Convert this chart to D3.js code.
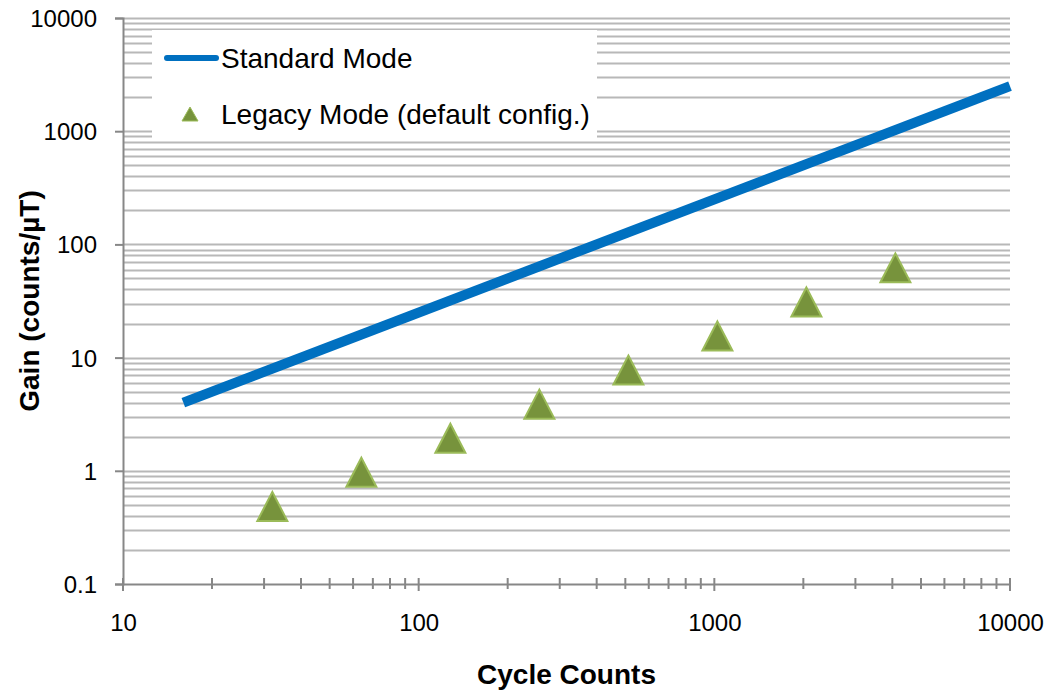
<!DOCTYPE html>
<html>
<head>
<meta charset="utf-8">
<script src="https://cdn.jsdelivr.net/npm/d3@7"></script>
<style>
  body { margin: 0; background: #fff; }
  svg { font-family: "Liberation Sans", Arial, sans-serif; }
</style>
</head>
<body>
<svg id="chart" width="1052" height="692"></svg>
<script>
// chart data
const standardCycles = [16, 10000];
const standardGain = [4, 2500];
const legacyCycles = [32, 64, 128, 256, 512, 1024, 2048, 4096];
const legacyGain = [0.5, 1, 2, 4, 8, 16, 32, 64];
const xTicks = [10, 100, 1000, 10000];
const yTicks = [0.1, 1, 10, 100, 1000, 10000];

const svg = d3.select("svg#chart");
const width = +svg.attr("width");
const height = +svg.attr("height");
const margin = {top: 18, right: 42, bottom: 108, left: 123};

const x = d3.scaleLog().domain([10, 10000]).range([margin.left, width - margin.right]);
const y = d3.scaleLog().domain([0.1, 10000]).range([height - margin.bottom, margin.top]);

const gridColor = "#b8b8b8";
const axisColor = "#878787";

// triangle marker, apex above the point a bit less than the base below it
function triangle(halfW, up, down) {
  const p = d3.path();
  p.moveTo(0, -up);
  p.lineTo(halfW, down);
  p.lineTo(-halfW, down);
  p.closePath();
  return p.toString();
}

// horizontal grid lines, 1..9 per decade
let gridVals = [];
for (let e = -1; e < 4; e++) {
  for (let m = 1; m <= 9; m++) gridVals.push(m * Math.pow(10, e));
}
gridVals.push(10000);
gridVals = gridVals.filter(v => v > 0.1 + 1e-9);

svg.append("g")
   .selectAll("line")
   .data(gridVals)
   .join("line")
   .attr("x1", margin.left)
   .attr("x2", width - margin.right)
   .attr("y1", d => Math.round(y(d)) + 0.5)
   .attr("y2", d => Math.round(y(d)) + 0.5)
   .attr("stroke", gridColor)
   .attr("stroke-width", 2);

// y axis
const yAxis = svg.append("g")
   .attr("transform", `translate(${margin.left},0)`)
   .call(d3.axisLeft(y).tickValues(yTicks).tickFormat(d3.format("~g")).tickSize(8).tickPadding(18));
yAxis.select(".domain").attr("stroke", axisColor).attr("stroke-width", 2);
yAxis.selectAll(".tick line").attr("stroke", axisColor).attr("stroke-width", 2);
yAxis.selectAll("text").attr("fill", "#000").style("font-size", "24px").attr("dy", "0.35em");

// x axis with minor ticks
let xMinor = [];
for (let e = 1; e < 4; e++) {
  for (let m = 1; m <= 9; m++) xMinor.push(m * Math.pow(10, e));
}
xMinor.push(10000);
const xAxisY = height - margin.bottom;
svg.append("g")
   .selectAll("line")
   .data(xMinor)
   .join("line")
   .attr("x1", d => x(d))
   .attr("x2", d => x(d))
   .attr("y1", xAxisY - 6)
   .attr("y2", d => xTicks.includes(d) ? xAxisY + 7 : xAxisY + 5)
   .attr("stroke", axisColor)
   .attr("stroke-width", 2);

const xAxis = svg.append("g")
   .attr("transform", `translate(0,${xAxisY})`)
   .call(d3.axisBottom(x).tickValues(xTicks).tickFormat(d3.format("~g")).tickSize(0).tickPadding(30));
xAxis.select(".domain").attr("stroke", axisColor).attr("stroke-width", 2);
xAxis.selectAll("text").attr("fill", "#000").style("font-size", "24px");

// standard mode line
const line = d3.line().x(d => x(d[0])).y(d => y(d[1]));
svg.append("path")
   .datum(standardCycles.map((c, i) => [c, standardGain[i]]))
   .attr("d", line)
   .attr("fill", "none")
   .attr("stroke", "#0070c0")
   .attr("stroke-width", 10);

// legacy mode triangles
svg.append("g")
   .selectAll("path")
   .data(legacyCycles.map((c, i) => [c, legacyGain[i]]))
   .join("path")
   .attr("d", triangle(15, 13, 16))
   .attr("transform", d => `translate(${x(d[0])},${y(d[1])})`)
   .attr("fill", "#77933c")
   .attr("stroke", "#9bbb59")
   .attr("stroke-width", 2)
   .attr("stroke-linejoin", "miter");

// legend
const legend = svg.append("g");
legend.append("rect")
      .attr("x", 152).attr("y", 30)
      .attr("width", 445).attr("height", 108)
      .attr("fill", "#fff");
legend.append("line")
      .attr("x1", 167).attr("x2", 216)
      .attr("y1", 58).attr("y2", 58)
      .attr("stroke", "#0070c0").attr("stroke-width", 6)
      .attr("stroke-linecap", "round");
legend.append("text")
      .attr("x", 221).attr("y", 58).attr("dy", "0.35em")
      .style("font-size", "28px")
      .text("Standard Mode");
legend.append("path")
      .attr("d", triangle(8, 7, 7))
      .attr("transform", "translate(190,114)")
      .attr("fill", "#77933c")
      .attr("stroke", "#9bbb59")
      .attr("stroke-width", 1);
legend.append("text")
      .attr("x", 221).attr("y", 114).attr("dy", "0.35em")
      .style("font-size", "28px")
      .text("Legacy Mode (default config.)");

// axis titles
svg.append("text")
   .attr("x", (margin.left + width - margin.right) / 2)
   .attr("y", 674).attr("dy", "0.35em")
   .attr("text-anchor", "middle")
   .style("font-size", "28px").style("font-weight", "bold")
   .text("Cycle Counts");
svg.append("text")
   .attr("transform", `translate(29,${(margin.top + height - margin.bottom) / 2}) rotate(-90)`)
   .attr("dy", "0.35em")
   .attr("text-anchor", "middle")
   .style("font-size", "28px").style("font-weight", "bold")
   .text("Gain (counts/µT)");
</script>
</body>
</html>
